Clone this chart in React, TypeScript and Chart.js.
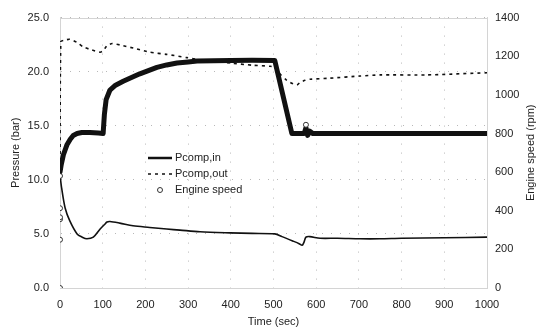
import React, { useEffect, useRef } from 'react';
import { Chart, registerables } from 'chart.js';
Chart.register(...registerables);

// ---- Data ----
const seriesNames = ['Pcomp,in', 'Pcomp,out', 'Engine speed'];
const xTitle = 'Time (sec)';
const yLeftTitle = 'Pressure (bar)';
const yRightTitle = 'Engine speed (rpm)';

const inTime = [0, 4, 12, 23, 40, 52, 63, 78, 94, 105, 110, 117, 140, 171, 210, 250, 281, 328, 398, 450, 503, 520, 545, 560, 567, 571, 576, 585, 609, 650, 703, 749, 800, 900, 1000];
const inBar = [10.45, 9.2, 7.4, 6.2, 5.0, 4.7, 4.55, 4.7, 5.45, 5.9, 6.1, 6.15, 6.0, 5.75, 5.6, 5.45, 5.35, 5.2, 5.1, 5.05, 5.0, 4.75, 4.35, 4.1, 3.95, 4.2, 4.7, 4.75, 4.6, 4.6, 4.55, 4.55, 4.6, 4.65, 4.7];

const outTime = [0, 2, 10, 23, 40, 54, 75, 94, 100, 106, 110, 122, 148, 180, 211, 250, 297, 328, 398, 450, 492, 503, 515, 531, 550, 556, 562, 574, 585, 632, 703, 749, 859, 1000];
const outBar = [10.45, 22.8, 22.9, 23.0, 22.7, 22.3, 22.0, 21.8, 21.9, 22.2, 22.4, 22.6, 22.4, 22.1, 21.8, 21.6, 21.3, 21.1, 20.8, 20.6, 20.5, 20.4, 19.8, 19.2, 18.8, 18.8, 19.0, 19.2, 19.3, 19.4, 19.6, 19.7, 19.7, 19.9];

const rpmTime = [0, 3, 8, 16, 24, 31, 40, 51, 70, 90, 101, 104, 108, 117, 130, 148, 170, 187, 210, 227, 250, 274, 300, 321, 360, 400, 450, 503, 543, 560, 572, 576, 580, 585, 592, 650, 750, 850, 1000];
const rpmVal = [600, 640, 690, 740, 770, 790, 800, 805, 805, 802, 800, 900, 975, 1025, 1050, 1070, 1092, 1109, 1128, 1142, 1155, 1165, 1170, 1175, 1177, 1178, 1179, 1178, 800, 800, 800, 830, 790, 812, 800, 800, 800, 800, 800];

const rpmDotTime = [0, 0, 0, 0, 0, 0, 576];
const rpmDotVal = [0, 250, 356, 366, 413, 580, 845];

const xTicks = { min: 0, max: 1000, step: 100 };
const yLeftTicks = { min: 0, max: 25, step: 5 };
const yRightTicks = { min: 0, max: 1400, step: 200 };

const toXY = (xs: number[], ys: number[]) => xs.map((x, i) => ({ x, y: ys[i] }));

const FONT = "'Liberation Sans', Arial, sans-serif";
const INK = '#111';
const GRID = '#b8b8b8';

export default function App() {
  const ref = useRef<HTMLCanvasElement | null>(null);
  useEffect(() => {
    if (!ref.current) return;

    const framePlugin = {
      id: 'frame',
      beforeDatasetsDraw(chart: any) {
        const { ctx, chartArea: a } = chart;
        ctx.save();
        ctx.strokeStyle = '#d4d4d4';
        ctx.lineWidth = 1;
        ctx.strokeRect(Math.round(a.left) + 0.5, Math.round(a.top) + 0.5, Math.round(a.right - a.left), Math.round(a.bottom - a.top));
        ctx.restore();
      },
      afterDraw(chart: any) {
        const { ctx, chartArea: a } = chart;
        ctx.save();
        // right axis title reading bottom-to-top
        ctx.translate(531, (a.top + a.bottom) / 2);
        ctx.rotate(-Math.PI / 2);
        ctx.fillStyle = '#222';
        ctx.font = `11px ${FONT}`;
        ctx.textAlign = 'center';
        ctx.textBaseline = 'middle';
        ctx.fillText(yRightTitle, 0, 0);
        ctx.restore();

        // legend
        ctx.save();
        const lx = 148, lw = 24, tx = 175;
        const rows = [158, 174, 190];
        ctx.font = `11px ${FONT}`;
        ctx.fillStyle = '#222';
        ctx.textBaseline = 'middle';
        ctx.textAlign = 'left';
        ctx.strokeStyle = INK;
        ctx.lineWidth = 2.5;
        ctx.beginPath();
        ctx.moveTo(lx, rows[0]);
        ctx.lineTo(lx + lw, rows[0]);
        ctx.stroke();
        ctx.fillText(seriesNames[0], tx, rows[0]);
        ctx.lineWidth = 1.5;
        ctx.setLineDash([3, 4]);
        ctx.beginPath();
        ctx.moveTo(lx, rows[1]);
        ctx.lineTo(lx + lw, rows[1]);
        ctx.stroke();
        ctx.setLineDash([]);
        ctx.fillText(seriesNames[1], tx, rows[1]);
        ctx.lineWidth = 1;
        ctx.strokeStyle = '#333';
        ctx.fillStyle = '#fff';
        ctx.beginPath();
        ctx.arc(lx + lw / 2, rows[2], 2.5, 0, Math.PI * 2);
        ctx.fill();
        ctx.stroke();
        ctx.fillStyle = '#222';
        ctx.fillText(seriesNames[2], tx, rows[2]);
        ctx.restore();
      },
    };

    const plain = (v: any) => String(v);

    const chart = new Chart(ref.current, {
      type: 'line',
      data: {
        datasets: [
          {
            label: seriesNames[2],
            data: toXY(rpmTime, rpmVal),
            yAxisID: 'y1',
            borderColor: INK,
            borderWidth: 5,
            borderJoinStyle: 'round',
            borderCapStyle: 'round',
            pointRadius: 0,
            tension: 0,
            order: 3,
          },
          {
            label: seriesNames[2] + ' pts',
            data: toXY(rpmDotTime, rpmDotVal),
            yAxisID: 'y1',
            showLine: false,
            pointRadius: 2.5,
            pointBorderWidth: 1,
            pointBorderColor: '#333',
            pointBackgroundColor: '#fff',
            order: 0,
          },
          {
            label: seriesNames[1],
            data: toXY(outTime, outBar),
            yAxisID: 'y',
            borderColor: INK,
            borderWidth: 1.6,
            borderDash: [3, 4],
            pointRadius: 0,
            tension: 0.2,
            order: 2,
          },
          {
            label: seriesNames[0],
            data: toXY(inTime, inBar),
            yAxisID: 'y',
            borderColor: INK,
            borderWidth: 1.6,
            pointRadius: 0,
            tension: 0.3,
            order: 1,
          },
        ],
      },
      options: {
        animation: false,
        responsive: false,
        devicePixelRatio: 1,
        layout: { padding: { top: 13, left: 0, right: 0, bottom: 0 } },
        plugins: { legend: { display: false }, tooltip: { enabled: false } },
        scales: {
          x: {
            type: 'linear',
            min: xTicks.min,
            max: xTicks.max,
            ticks: { stepSize: xTicks.step, padding: 10, color: '#222', font: { family: FONT, size: 11 }, maxRotation: 0, callback: plain },
            grid: { color: GRID, drawTicks: false },
            border: { display: true, color: '#d4d4d4', dash: [1, 8] },
            title: { display: true, text: xTitle, color: '#222', font: { family: FONT, size: 11 }, padding: { top: 0, bottom: 0 } },
            afterFit: (s: any) => { s.height = 41; },
          },
          y: {
            type: 'linear',
            position: 'left',
            min: yLeftTicks.min,
            max: yLeftTicks.max,
            ticks: { stepSize: yLeftTicks.step, padding: 11, color: '#222', font: { family: FONT, size: 11 }, callback: (v: any) => Number(v).toFixed(1) },
            grid: { color: GRID, drawTicks: false },
            border: { display: true, color: '#d4d4d4', dash: [1, 8] },
            title: { display: true, text: yLeftTitle, color: '#222', font: { family: FONT, size: 11 }, padding: { top: 9, bottom: 0 } },
            afterFit: (s: any) => { s.width = 60; },
          },
          y1: {
            type: 'linear',
            position: 'right',
            min: yRightTicks.min,
            max: yRightTicks.max,
            ticks: { stepSize: yRightTicks.step, padding: 8, color: '#222', font: { family: FONT, size: 11 }, callback: plain },
            grid: { display: false, drawTicks: false },
            border: { display: true, color: '#d4d4d4' },
            afterFit: (s: any) => { s.width = 50; },
          },
        },
      },
      plugins: [framePlugin],
    } as any);
    return () => chart.destroy();
  }, []);

  return (
    <div style={{ position: 'absolute', left: 0, top: 0, width: 537, height: 329, background: '#fff' }}>
      <canvas ref={ref} width={537} height={329} />
    </div>
  );
}
